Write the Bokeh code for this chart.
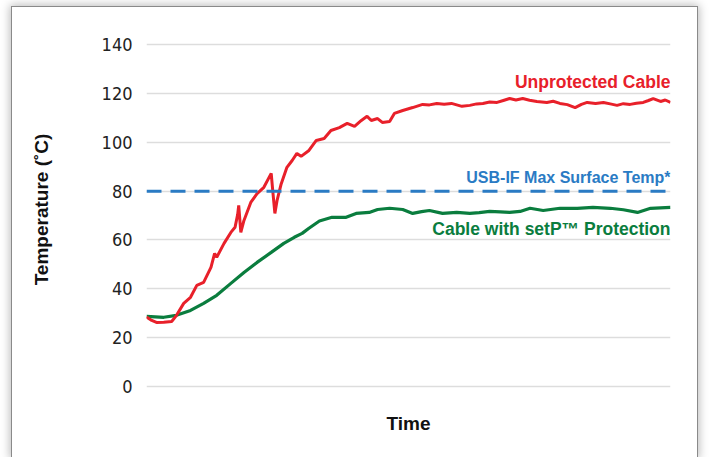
from bokeh.plotting import figure
from bokeh.models import Range1d, FixedTicker, Span, Label
from bokeh.embed import file_html
from bokeh.resources import INLINE

# ---- data (time in arbitrary units 0..100, temperature in °C) ----
time_red = [0, 1.0, 1.9, 3.3, 4.8, 5.7, 7.1, 8.4, 9.6, 10.9, 12.3, 13.0, 13.4, 14.8, 16.1,
            16.9, 17.4, 17.6, 18.0, 18.6, 19.9, 21.1, 22.4, 23.8, 24.1, 24.5, 24.9, 25.7,
            26.8, 27.8, 28.7, 29.5, 31.0, 32.4, 33.9, 35.2, 36.8, 38.3, 39.7, 41.0, 42.1,
            42.9, 44.1, 45.0, 46.4, 47.3, 48.9, 50.8, 52.7, 54.0, 55.4, 56.8, 58.2, 60.2,
            61.7, 63.0, 64.2, 65.5, 66.9, 68.1, 69.3, 70.5, 71.8, 73.1, 74.5, 76.4, 77.6,
            78.9, 80.3, 81.8, 83.0, 84.1, 85.7, 87.2, 88.5, 89.8, 91.0, 92.3, 93.5, 94.8,
            95.8, 96.7, 98.1, 99.0, 100]
temp_red = [28.4, 27.0, 26.2, 26.3, 26.6, 29.0, 34.0, 36.5, 41.4, 42.6, 48.8, 54.5, 52.9, 58.6, 63.1,
            65.2, 70.5, 74.2, 63.1, 68.0, 75.4, 79.0, 81.6, 87.3, 80.0, 70.9, 76.0, 83.0,
            89.8, 92.6, 95.5, 94.3, 96.7, 100.8, 101.6, 104.9, 106.1, 107.8, 106.6, 109.0, 110.7,
            109.0, 109.8, 108.2, 108.6, 111.9, 113.1, 114.3, 115.6, 115.4, 116.0, 115.7, 116.0, 114.8,
            115.2, 115.8, 116.0, 116.6, 116.4, 117.2, 118.0, 117.4, 118.0, 117.3, 116.8, 116.4, 116.9,
            116.0, 115.5, 114.3, 115.6, 116.4, 116.0, 116.4, 115.8, 115.2, 115.9, 115.6, 116.1, 116.4,
            117.2, 118.0, 116.8, 117.4, 116.4]

time_green = [0, 3.3, 5.7, 8.4, 10.9, 13.4, 16.1, 18.6, 21.1, 23.8, 26.2, 28.2, 29.7, 31.0,
              33.0, 35.4, 38.1, 40.0, 42.5, 44.1, 46.4, 48.9, 50.8, 52.5, 54.0, 56.5, 59.2,
              61.7, 63.5, 65.5, 67.5, 69.3, 71.3, 73.2, 75.7, 78.9, 82.2, 85.2, 88.5, 91.0,
              93.7, 96.2, 100]
temp_green = [28.7, 28.3, 29.1, 31.1, 34.0, 37.3, 42.2, 46.7, 50.8, 54.9, 58.6, 61.1, 62.7, 64.8,
              67.8, 69.3, 69.3, 70.9, 71.3, 72.5, 73.0, 72.5, 70.9, 71.6, 72.1, 70.9, 71.3,
              70.9, 71.2, 71.7, 71.5, 71.3, 71.7, 73.0, 72.1, 73.0, 73.0, 73.4, 73.0, 72.4,
              71.3, 73.0, 73.4]

usb_limit = 80
y_ticks = [0, 20, 40, 60, 80, 100, 120, 140]

label_red = "Unprotected Cable"
label_blue = "USB-IF Max Surface Temp*"
label_green = "Cable with setP\u2122 Protection"

RED = "#e8202a"
GREEN = "#0a7d3e"
BLUE = "#2a7bc4"

p = figure(width=685, height=450, output_backend="svg", toolbar_location=None,
           x_range=Range1d(0, 100), y_range=Range1d(-5, 150),
           min_border_left=134, min_border_right=27, min_border_top=13, min_border_bottom=59,
           margin=(7, 0, 0, 12),
           styles={"outline": "1px solid #8a8a8a", "outline-offset": "0px",
                   "box-shadow": "0 0 9px 2px rgba(0,0,0,0.28)"})
p.outline_line_color = None
p.background_fill_color = "white"
p.border_fill_color = "white"

# grid
p.xgrid.visible = False
p.ygrid.grid_line_color = "#dddddd"
p.ygrid.grid_line_width = 1.5

# y axis
p.yaxis.ticker = FixedTicker(ticks=y_ticks)
p.yaxis.axis_line_color = None
p.yaxis.major_tick_line_color = None
p.yaxis.minor_tick_line_color = None
p.yaxis.major_label_standoff = 8
p.yaxis.major_label_text_font = "'Liberation Sans Narrow', 'DejaVu Sans Condensed', 'Liberation Sans'"
p.yaxis.major_label_text_font_size = "18px"
p.yaxis.major_label_text_color = "#222222"
p.yaxis.axis_label = "Temperature (\u02daC)"
p.yaxis.axis_label_text_font = "Liberation Sans"
p.yaxis.axis_label_text_font_style = "bold"
p.yaxis.axis_label_text_font_size = "19px"
p.yaxis.axis_label_text_color = "#111111"
p.yaxis.axis_label_standoff = 47

# x axis
p.xaxis.ticker = FixedTicker(ticks=[])
p.xaxis.axis_line_color = None
p.xaxis.major_tick_line_color = None
p.xaxis.minor_tick_line_color = None
p.xaxis.major_label_standoff = 0
p.xaxis.axis_label = "Time"
p.xaxis.axis_label_text_font = "Liberation Sans"
p.xaxis.axis_label_text_font_style = "bold"
p.xaxis.axis_label_text_font_size = "19px"
p.xaxis.axis_label_text_color = "#111111"
p.xaxis.axis_label_standoff = 14

# USB-IF limit
p.add_layout(Span(location=usb_limit, dimension="width", line_color=BLUE,
                  line_width=3, line_dash="15 9"))

# series
p.line(time_green, temp_green, line_color=GREEN, line_width=3.2)
p.line(time_red, temp_red, line_color=RED, line_width=3)

# series labels
for xx, yy, txt, col, size in [(100, 124.6, label_red, RED, "17.5px"),
                               (100, 85.6, label_blue, BLUE, "16px"),
                               (100, 64.3, label_green, GREEN, "17.5px")]:
    p.add_layout(Label(x=xx, y=yy, text=txt, text_color=col, text_align="right",
                       text_baseline="middle", text_font="Liberation Sans",
                       text_font_style="bold", text_font_size=size))

open("out.html", "w").write(file_html(p, INLINE))
